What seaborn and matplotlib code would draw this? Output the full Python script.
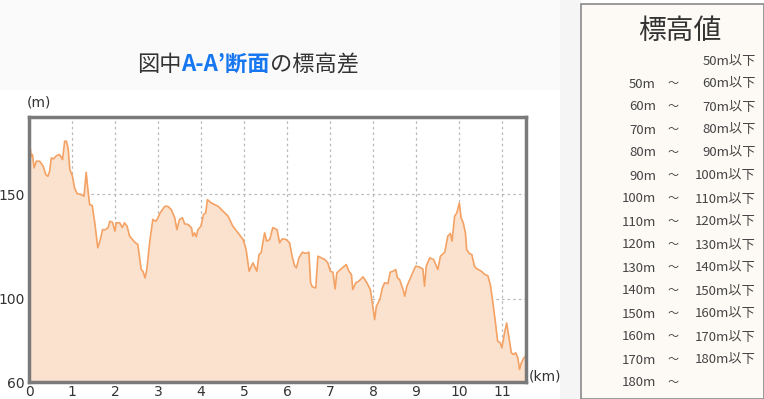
import numpy as np
import matplotlib
matplotlib.use("Agg")
import matplotlib.pyplot as plt
from matplotlib.colors import LinearSegmentedColormap, Normalize
from matplotlib.cm import ScalarMappable
from matplotlib.patches import Rectangle
import seaborn as sns

# Profile A-A' (distance in km, elevation in m)
km = [0.0, 0.05, 0.08, 0.12, 0.17, 0.25, 0.33, 0.39, 0.44, 0.48, 0.52, 0.57, 0.64,
      0.71, 0.78, 0.83, 0.87, 0.91, 0.95, 1.01, 1.06, 1.12, 1.22, 1.28, 1.33, 1.37,
      1.41, 1.47, 1.53, 1.60, 1.66, 1.71, 1.78, 1.84, 1.88, 1.94, 2.00, 2.03, 2.11,
      2.17, 2.22, 2.28, 2.34, 2.46, 2.53, 2.61, 2.65, 2.70, 2.74, 2.81, 2.88, 2.95,
      3.00, 3.05, 3.16, 3.23, 3.31, 3.39, 3.44, 3.50, 3.57, 3.62, 3.70, 3.78, 3.81,
      3.85, 3.89, 3.93, 4.00, 4.06, 4.11, 4.15, 4.24, 4.40, 4.51, 4.63, 4.74, 4.86,
      4.98, 5.05, 5.12, 5.21, 5.30, 5.35, 5.40, 5.48, 5.53, 5.60, 5.67, 5.77, 5.83,
      5.89, 5.98, 6.06, 6.12, 6.18, 6.22, 6.28, 6.36, 6.43, 6.51, 6.55, 6.59, 6.67,
      6.72, 6.80, 6.88, 6.95, 7.01, 7.07, 7.12, 7.16, 7.26, 7.38, 7.44, 7.50, 7.53,
      7.60, 7.67, 7.77, 7.86, 7.94, 7.98, 8.04, 8.08, 8.16, 8.22, 8.27, 8.35, 8.40,
      8.47, 8.53, 8.57, 8.62, 8.70, 8.74, 8.79, 8.89, 8.99, 9.07, 9.16, 9.20, 9.24,
      9.32, 9.41, 9.51, 9.57, 9.67, 9.74, 9.80, 9.84, 9.90, 9.95, 10.01, 10.05,
      10.10, 10.15, 10.18, 10.24, 10.30, 10.36, 10.42, 10.52, 10.60, 10.67, 10.73,
      10.79, 10.85, 10.90, 10.96, 11.00, 11.06, 11.11, 11.16, 11.22, 11.27, 11.32,
      11.37, 11.41, 11.45, 11.50, 11.55]
elev = [177.8, 168.0, 169.0, 162.6, 165.8, 165.8, 163.4, 159.4, 158.6, 161.0, 167.4,
        166.9, 168.5, 169.0, 166.6, 175.4, 175.4, 172.0, 161.8, 158.6, 153.0, 150.3,
        149.8, 149.0, 160.5, 152.2, 145.0, 144.6, 136.3, 124.3, 128.3, 133.0, 133.0,
        134.0, 137.0, 136.6, 132.3, 136.3, 136.3, 134.0, 136.3, 134.7, 129.9, 127.0,
        125.9, 113.9, 113.1, 109.9, 113.9, 127.5, 137.9, 137.0, 138.7, 141.0, 144.2,
        144.2, 142.6, 138.7, 133.0, 137.9, 138.7, 135.8, 135.5, 133.9, 129.9, 131.5,
        129.6, 133.0, 134.7, 140.3, 141.0, 147.4, 145.8, 144.2, 141.9, 139.5, 134.7,
        131.5, 128.3, 123.5, 113.1, 117.1, 113.1, 121.1, 121.9, 131.5, 127.5, 128.3,
        134.0, 133.0, 126.7, 128.6, 128.3, 126.7, 120.3, 115.5, 114.7, 119.5, 122.2,
        121.6, 122.2, 107.5, 105.6, 105.1, 120.3, 119.5, 118.7, 117.1, 113.1, 112.6,
        104.6, 112.3, 114.2, 116.3, 113.1, 111.5, 104.3, 107.5, 108.3, 110.4, 107.5,
        104.3, 98.7, 89.9, 96.3, 99.5, 105.1, 107.5, 107.2, 112.6, 113.1, 113.9,
        109.9, 109.1, 104.3, 101.1, 105.9, 110.7, 115.5, 115.2, 114.2, 105.9, 115.5,
        119.5, 118.7, 113.9, 120.3, 122.2, 129.9, 131.2, 127.5, 139.5, 141.0, 145.8,
        138.7, 136.3, 131.5, 123.5, 121.6, 121.1, 115.5, 114.2, 113.1, 111.5, 111.0,
        106.7, 97.9, 88.3, 79.6, 78.8, 76.4, 83.5, 88.3, 81.9, 74.0, 73.2, 74.0,
        71.6, 66.0, 69.1, 71.1, 72.4]

x_ticks = list(range(0, 12))
y_ticks = [60, 100, 150]

# Title pieces: (text, colour, weight)
title_parts = [("図中", "#333333", "normal"),
               ("A-A’断面", "#1677f0", "bold"),
               ("の標高差", "#333333", "normal")]

# Legend classes
lower_labels = ["", "50m", "60m", "70m", "80m", "90m", "100m", "110m", "120m",
                "130m", "140m", "150m", "160m", "170m", "180m"]
upper_labels = ["50m以下", "60m以下", "70m以下", "80m以下", "90m以下", "100m以下",
                "110m以下", "120m以下", "130m以下", "140m以下", "150m以下",
                "160m以下", "170m以下", "180m以下", ""]
bar_colors = ["#2d3a88", "#1b4fe2", "#1fa8ee", "#1ad8ea", "#86e63a", "#f3ef0c",
              "#f7b71c", "#f77f16", "#f5590f", "#bf5230"]

sns.set_theme(style="white")
plt.rcParams["font.family"] = ["DejaVu Sans", "Noto Sans CJK JP"]
jp = ["Noto Sans CJK JP", "DejaVu Sans"]

W, H = 764, 399
fig = plt.figure(figsize=(W / 100, H / 100), dpi=100, facecolor="white")


def fx(px):
    return px / W


def fy(py):
    return 1 - py / H


# background bands
fig.patches.append(Rectangle((0, fy(90)), fx(560), 1 - fy(90), transform=fig.transFigure,
                             facecolor="#fafafa", edgecolor="none", zorder=0))
fig.patches.append(Rectangle((fx(560), 0), fx(21), 1, transform=fig.transFigure,
                             facecolor="#f5f5f5", edgecolor="none", zorder=0))
fig.patches.append(Rectangle((fx(581), 0), fx(W - 581), fy(4), transform=fig.transFigure,
                             facecolor="#fdfaf6", edgecolor="#8a8a8a", linewidth=1.2, zorder=0))

# profile chart
ax = fig.add_axes([fx(29), fy(382), fx(526 - 29), fy(117) - fy(382)])
ax.fill_between(km, elev, 60, color="#fbe2cf", linewidth=0, zorder=1)
sns.lineplot(x=km, y=elev, ax=ax, color="#f4a264", linewidth=1.2, zorder=2)
ax.set_xlim(0, 11.56)
ax.set_ylim(60, 187)
ax.set_xticks(x_ticks)
ax.set_yticks(y_ticks)
ax.tick_params(length=0, labelsize=10, labelcolor="#333333")
ax.tick_params(axis="x", pad=2)
ax.tick_params(axis="y", pad=3)
ax.grid(True, color="#b8b8b8", linestyle=(0, (2, 2.5)), linewidth=0.9)
ax.set_axisbelow(True)
for s in ax.spines.values():
    s.set_color("#7a7a7a")
    s.set_linewidth(2.5)
    s.set_zorder(5)
ax.set_xlabel("")
ax.set_ylabel("")
fig.text(fx(27), fy(103), "(m)", fontsize=10, color="#333333", va="center")
fig.text(fx(529), fy(377), "(km)", fontsize=10, color="#333333", va="center")

# title with blue highlighted part, pieces placed one after another
fig.canvas.draw()
renderer = fig.canvas.get_renderer()
x_px = 137
for txt, col, wt in title_parts:
    t = fig.text(fx(x_px), fy(76), txt, fontsize=16, color=col, fontweight=wt,
                 family=jp, va="bottom")
    x_px += t.get_window_extent(renderer).width

# legend panel
fig.text(fx(680), fy(31), "標高値", fontsize=20, color="#333333", family=jp,
         ha="center", va="center")
cmap = LinearSegmentedColormap.from_list("elev", bar_colors)
cax = fig.add_axes([fx(596), fy(390), fx(13), fy(50) - fy(390)])
cb = fig.colorbar(ScalarMappable(norm=Normalize(50, 180), cmap=cmap), cax=cax)
cax.invert_yaxis()
cb.set_ticks([])
cb.outline.set_edgecolor("#b0a8a0")
cb.outline.set_linewidth(1)
for i, (lo, hi) in enumerate(zip(lower_labels, upper_labels)):
    yy = fy(61 + i * 23)
    if lo:
        fig.text(fx(656), yy, lo, fontsize=9.5, color="#444444", ha="right",
                 va="center", family=jp)
        fig.text(fx(673), yy, "～", fontsize=8, color="#444444", ha="center",
                 va="center", family=jp)
    if hi:
        fig.text(fx(756), yy, hi, fontsize=9.5, color="#444444", ha="right",
                 va="center", family=jp)

fig.savefig("out.png", dpi=100, facecolor=fig.get_facecolor())
